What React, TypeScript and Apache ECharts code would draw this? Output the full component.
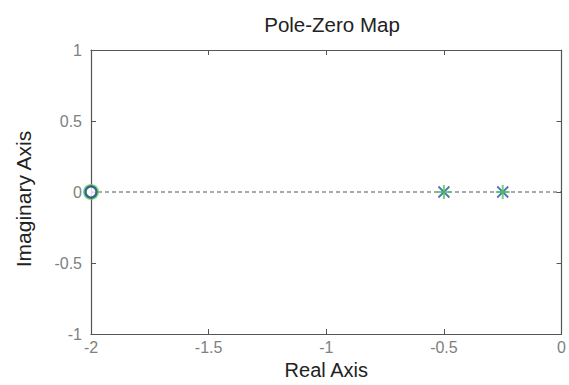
import React, { useEffect, useRef } from "react";
import * as echarts from "echarts";

const xTicks = [-2, -1.5, -1, -0.5, 0];
const yTicks = [-1, -0.5, 0, 0.5, 1];
const zeros: [number, number][] = [[-2, 0]];
const poles: [number, number][] = [[-0.5, 0], [-0.25, 0]];
const baseline: [number, number][] = [[-2, 0], [0, 0]];

const PLUS = "path://M5,0L5,10M0,5L10,5";
const CROSS = "path://M0,0L10,10M10,0L0,10";

export default function App() {
  const ref = useRef<HTMLDivElement>(null);
  useEffect(() => {
    if (!ref.current) return;
    const chart = echarts.init(ref.current, null, { renderer: "svg" });
    const fmt = (v: number) => String(v);
    const font = "Liberation Sans, Arial";
    const axisLine = { show: true, onZero: false, lineStyle: { color: "#555", width: 1.2 } };
    const tick = { show: true, inside: true, length: 5, lineStyle: { color: "#555" } };
    chart.setOption({
      animation: false,
      backgroundColor: "#fff",
      title: {
        text: "Pole-Zero Map",
        left: 327,
        top: 9,
        textAlign: "center",
        textStyle: { fontFamily: font, fontSize: 20.5, fontWeight: "normal", color: "#222" },
      },
      grid: { left: 91, right: 4, top: 50, bottom: 47, containLabel: false },
      xAxis: [
        {
          type: "value",
          min: xTicks[0],
          max: xTicks[xTicks.length - 1],
          interval: 0.5,
          name: "Real Axis",
          nameLocation: "middle",
          nameGap: 26,
          nameTextStyle: { fontFamily: font, fontSize: 20, color: "#222" },
          axisLine,
          axisTick: tick,
          axisLabel: { formatter: fmt, color: "#808080", fontSize: 16, fontFamily: font, margin: 5 },
          splitLine: { show: false },
        },
        {
          type: "value",
          position: "top",
          min: xTicks[0],
          max: xTicks[xTicks.length - 1],
          interval: 0.5,
          axisLine,
          axisTick: tick,
          axisLabel: { show: false },
          splitLine: { show: false },
        },
      ],
      yAxis: [
        {
          type: "value",
          min: yTicks[0],
          max: yTicks[yTicks.length - 1],
          interval: 0.5,
          name: "Imaginary Axis",
          nameLocation: "middle",
          nameGap: 57,
          nameTextStyle: { fontFamily: font, fontSize: 21, color: "#222", padding: [0, 14, 0, 0] },
          axisLine,
          axisTick: tick,
          axisLabel: { formatter: fmt, color: "#808080", fontSize: 16, fontFamily: font, margin: 9 },
          splitLine: { show: false },
        },
        {
          type: "value",
          position: "right",
          min: yTicks[0],
          max: yTicks[yTicks.length - 1],
          interval: 0.5,
          axisLine,
          axisTick: tick,
          axisLabel: { show: false },
          splitLine: { show: false },
        },
      ],
      series: [
        {
          type: "line",
          data: baseline,
          symbol: "none",
          lineStyle: { color: "#555", width: 1.2, type: [4, 3] },
          z: 1,
        },
        {
          type: "scatter",
          data: zeros,
          symbol: "circle",
          symbolSize: 14,
          itemStyle: { color: "rgba(0,0,0,0)", borderColor: "#5fd35f", borderWidth: 2 },
          z: 3,
        },
        {
          type: "scatter",
          data: zeros,
          symbol: "circle",
          symbolSize: 11,
          itemStyle: { color: "#fff", borderColor: "#123a7a", borderWidth: 2.2 },
          z: 4,
        },
        {
          type: "scatter",
          data: poles,
          symbol: CROSS,
          symbolSize: 11,
          itemStyle: { color: "none", borderColor: "#3a4aa8", borderWidth: 1.8 },
          z: 3,
        },
        {
          type: "scatter",
          data: poles,
          symbol: PLUS,
          symbolSize: 14,
          itemStyle: { color: "none", borderColor: "#3ccf5a", borderWidth: 2 },
          z: 4,
        },
      ],
    });
    return () => chart.dispose();
  }, []);
  return (
    <div
      ref={ref}
      style={{ position: "fixed", left: 0, top: 0, width: 569, height: 385, background: "#fff" }}
    />
  );
}
